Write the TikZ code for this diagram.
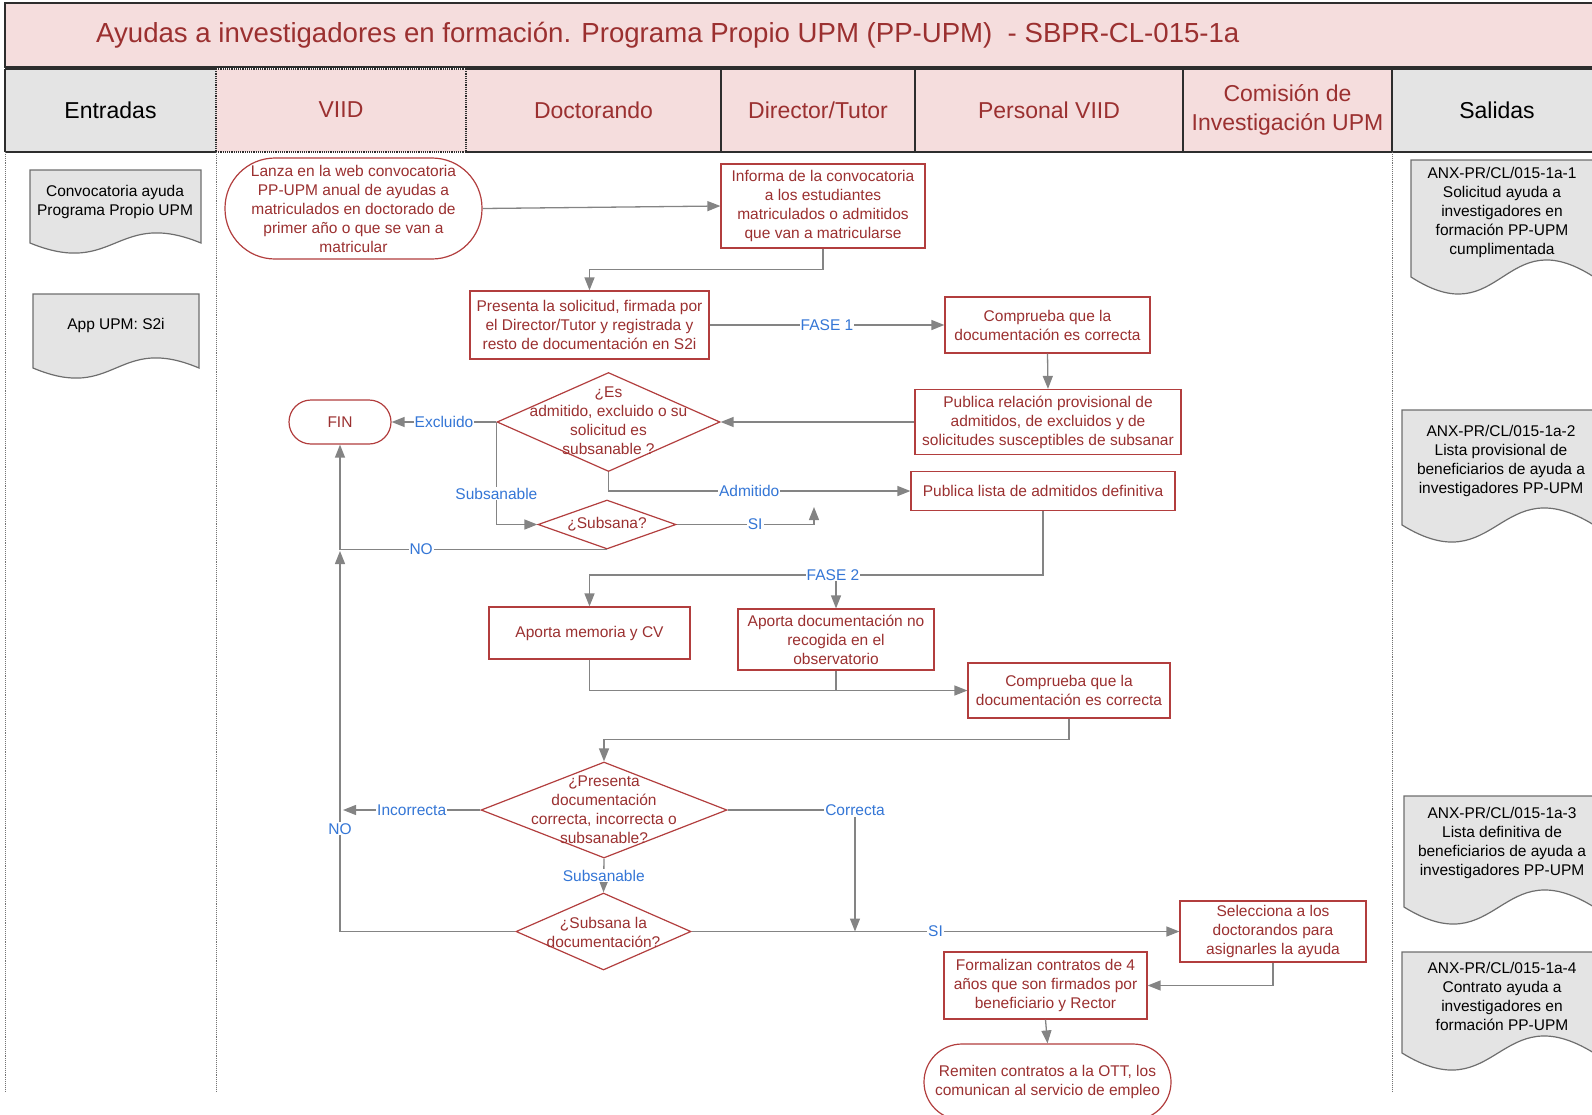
\documentclass[tikz,border=0pt]{standalone}
\usepackage{fontspec}
\setmainfont{Liberation Sans}
\usetikzlibrary{arrows.meta,shapes.geometric,calc}
\definecolor{txtred}{RGB}{155,48,48}
\definecolor{bdred}{RGB}{178,62,62}
\definecolor{lblue}{RGB}{52,118,214}
\definecolor{cgray}{RGB}{132,132,132}
\definecolor{pinkf}{RGB}{245,221,221}
\definecolor{grayf}{RGB}{228,228,228}
\definecolor{hdline}{RGB}{45,45,45}
\definecolor{docline}{RGB}{110,110,110}
\begin{document}
\begin{tikzpicture}[x=1pt,y=-1pt,
  every node/.style={font=\fontsize{15.5}{19}\selectfont},
  proc/.style={draw=bdred, line width=1.2pt, fill=white, text=txtred, align=center, inner sep=0pt},
  term/.style={proc},
  dia/.style={draw=bdred, line width=1.2pt, fill=white, diamond, inner sep=0pt},
  dtext/.style={text=txtred, align=center, inner sep=0pt},
  arr/.style={draw=cgray, line width=1.3pt, -{Triangle[length=13pt,width=10pt]}},
  conn/.style={draw=cgray, line width=1.3pt},
  lbl/.style={text=lblue, fill=white, inner sep=1pt},
  docsh/.style={draw=docline, line width=1.2pt, fill=grayf},
  dtxt/.style={text=black, align=center, inner sep=0pt},
  hdtxt/.style={text=txtred, align=center, inner sep=0pt, font=\fontsize{23}{28.5}\selectfont},
  hd/.style={draw=hdline, line width=1.5pt},
  hdd/.style={draw=hdline, line width=1.2pt, densely dotted},
  lane/.style={draw=black!55, line width=0.9pt, densely dotted},
]
\useasboundingbox (0,0) rectangle (1592,1114);

% title
\draw[fill=pinkf, draw=hdline, line width=1.5pt] (5,3) rectangle (1600,67);
\node[anchor=west, text=txtred, inner sep=0pt, font=\fontsize{27.6}{31}\selectfont] (title) at (96,35)
  {Ayudas a investigadores en formación. Programa Propio UPM (PP-UPM)~ - SBPR-CL-015-1a};

% header row
\fill[grayf] (5,69) rectangle (216,152);
\fill[pinkf] (216,69) rectangle (1392,152);
\fill[grayf] (1392,69) rectangle (1600,152);
\draw[hd] (5,69) -- (216,69) (466,69) -- (1600,69)
          (5,152) -- (216,152) (466,152) -- (1600,152)
          (5,69) -- (5,152) (721,69) -- (721,152) (915,69) -- (915,152)
          (1183,69) -- (1183,152) (1392,69) -- (1392,152);
\draw[hdd] (216,69) -- (466,69) (216,152) -- (466,152) (216,69) -- (216,152) (466,69) -- (466,152);
\node[hdtxt, text=black] (hent) at (110.5,110) {Entradas};
\node[hdtxt] (hviid) at (341,110) {VIID};
\node[hdtxt] (hdoc) at (593.5,110) {Doctorando};
\node[hdtxt] (hdir) at (818,110) {Director/Tutor};
\node[hdtxt] (hper) at (1049,110) {Personal VIID};
\node[hdtxt] (hcom) at (1287.5,110) {Comisión de\\Investigación UPM};
\node[hdtxt, text=black] (hsal) at (1497,110) {Salidas};

% lanes
\draw[lane] (5,152) -- (5,1091) (216,152) -- (216,1091) (1392,152) -- (1392,1091);

% input documents
\draw[docsh] (30,170) -- (201,170) -- (201,243) .. controls (115.5,208) and (115.5,278) .. (30,243) -- cycle;
\node[dtxt] (ent1) at (115,202) {Convocatoria ayuda\\Programa Propio UPM};
\draw[docsh] (33,294) -- (199,294) -- (199,368) .. controls (116,333) and (116,403) .. (33,368) -- cycle;
\node[dtxt] (ent2) at (116,325) {App UPM: S2i};

% output documents
\draw[docsh] (1411,160) -- (1594,160) -- (1594,277) .. controls (1502.5,218) and (1502.5,336) .. (1411,277) -- cycle;
\node[dtxt] (sal1) at (1502,212) {ANX-PR/CL/015-1a-1\\Solicitud ayuda a\\investigadores en\\formación PP-UPM\\cumplimentada};
\draw[docsh] (1402,410) -- (1594,410) -- (1594,525) .. controls (1498,466) and (1498,584) .. (1402,525) -- cycle;
\node[dtxt] (sal2) at (1501,461) {ANX-PR/CL/015-1a-2\\Lista provisional de\\beneficiarios de ayuda a\\investigadores PP-UPM};
\draw[docsh] (1404,796) -- (1594,796) -- (1594,907) .. controls (1499,848) and (1499,966) .. (1404,907) -- cycle;
\node[dtxt] (sal3) at (1502,843) {ANX-PR/CL/015-1a-3\\Lista definitiva de\\beneficiarios de ayuda a\\investigadores PP-UPM};
\draw[docsh] (1402,952) -- (1594,952) -- (1594,1053) .. controls (1498,994) and (1498,1112) .. (1402,1053) -- cycle;
\node[dtxt] (sal4) at (1502,996.5) {ANX-PR/CL/015-1a-4\\Contrato ayuda a\\investigadores en\\formación PP-UPM};

% process nodes
\node[term, minimum width=257pt, minimum height=101pt, rounded corners=50pt] (lanza) at (353.5,208.5)
  {Lanza en la web convocatoria\\PP-UPM anual de ayudas a\\matriculados en doctorado de\\primer año o que se van a\\matricular};
\node[proc, minimum width=204pt, minimum height=84pt] (informa) at (823,206)
  {Informa de la convocatoria\\a los estudiantes\\matriculados o admitidos\\que van a matricularse};
\node[proc, minimum width=239pt, minimum height=68pt] (presenta) at (589.5,325)
  {Presenta la solicitud, firmada por\\el Director/Tutor y registrada y\\resto de documentación en S2i};
\node[proc, minimum width=205pt, minimum height=56pt] (comp1) at (1047.5,325)
  {Comprueba que la\\documentación es correcta};
\node[proc, minimum width=266pt, minimum height=65pt] (pubrel) at (1048,422)
  {Publica relación provisional de\\admitidos, de excluidos y de\\solicitudes susceptibles de subsanar};
\node[term, minimum width=102pt, minimum height=44pt, rounded corners=22pt] (fin) at (340,422) {FIN};
\node[dia, minimum width=223pt, minimum height=99pt] (dia1) at (608.5,422) {};
\node[dtext] (dia1t) at (608.5,421) {¿Es\\admitido, excluido o su\\solicitud es\\subsanable ?};
\node[dia, minimum width=138pt, minimum height=49pt] (dia2) at (607,524.5) {};
\node[dtext] (dia2t) at (607,524.5) {¿Subsana?};
\node[proc, minimum width=264pt, minimum height=39pt] (publista) at (1043,491)
  {Publica lista de admitidos definitiva};
\node[proc, minimum width=201pt, minimum height=52pt] (apmem) at (589.5,633) {Aporta memoria y CV};
\node[proc, minimum width=196pt, minimum height=61pt] (apdoc) at (836,639.5)
  {Aporta documentación no\\recogida en el\\observatorio};
\node[proc, minimum width=202pt, minimum height=55pt] (comp2) at (1069,690.5)
  {Comprueba que la\\documentación es correcta};
\node[dia, minimum width=246pt, minimum height=96pt] (dia3) at (604,810) {};
\node[dtext] (dia3t) at (604,810) {¿Presenta\\documentación\\correcta, incorrecta o\\subsanable?};
\node[dia, minimum width=175pt, minimum height=77pt] (dia4) at (603.5,931.5) {};
\node[dtext] (dia4t) at (603.5,932) {¿Subsana la\\documentación?};
\node[proc, minimum width=186pt, minimum height=61pt] (selec) at (1273,931.5)
  {Selecciona a los\\doctorandos para\\asignarles la ayuda};
\node[proc, minimum width=203pt, minimum height=67pt] (formal) at (1045.5,985.5)
  {Formalizan contratos de 4\\años que son firmados por\\beneficiario y Rector};
\node[term, minimum width=247pt, minimum height=76pt, rounded corners=38pt] (remiten) at (1047.5,1082)
  {Remiten contratos a la OTT, los\\comunican al servicio de empleo};

% connectors
\draw[arr] (lanza.east) -- (informa.west);
\draw[arr] (informa.south) -- ++(0,21) -| (presenta.north);
\draw[arr] (presenta.east) -- node[lbl] (lf1) {FASE 1} (comp1.west);
\draw[arr] (comp1.south) -- (pubrel.north);
\draw[arr] (pubrel.west) -- (dia1.east);
\draw[arr] (dia1.west) -- node[lbl] (lexc) {Excluido} (fin.east);
\draw[arr] (dia1.west) |- node[lbl, pos=0.35] (lsub1) {Subsanable} (dia2.west);
\draw[arr] (dia1.south) |- node[lbl, pos=0.733] (ladm) {Admitido} (publista.west);
\coordinate (siend) at (814,507);
\draw[arr] (dia2.east) -| node[lbl, pos=0.286] (lsi1) {SI} (siend);
\draw[arr] (dia2.south) -| node[lbl, pos=0.348] (lno1) {NO} (fin.south);
\coordinate (f2) at (836,575);
\draw[arr] (publista.south) |- (f2) -| (apmem.north);
\draw[arr] (f2) -- (apdoc.north);
\node[lbl] (lf2) at ($(f2)+(-3,0)$) {FASE 2};
\draw[arr] (apmem.south) |- (comp2.west);
\draw[conn] (apdoc.south) -- (apdoc.south |- comp2.west);
\draw[arr] (comp2.south) -- ++(0,21) -| (dia3.north);
\coordinate (incend) at (343,810);
\draw[arr] (dia3.west) -- node[lbl] (linc) {Incorrecta} (incend);
\coordinate (corrend) at (855,931.5);
\draw[arr] (dia3.east) -| node[lbl, pos=0.5] (lcor) {Correcta} (corrend);
\draw[arr] (dia3.south) -- node[lbl] (lsub2) {Subsanable} (dia4.north);
\coordinate (noend) at (340,551);
\draw[arr] (dia4.west) -| node[lbl, pos=0.635] (lno2) {NO} (noend);
\draw[arr] (dia4.east) -- node[lbl] (lsi2) {SI} (selec.west);
\draw[arr] (selec.south) |- (formal.east);
\draw[arr] (formal.south) -- (remiten.north);
\end{tikzpicture}
\end{document}
